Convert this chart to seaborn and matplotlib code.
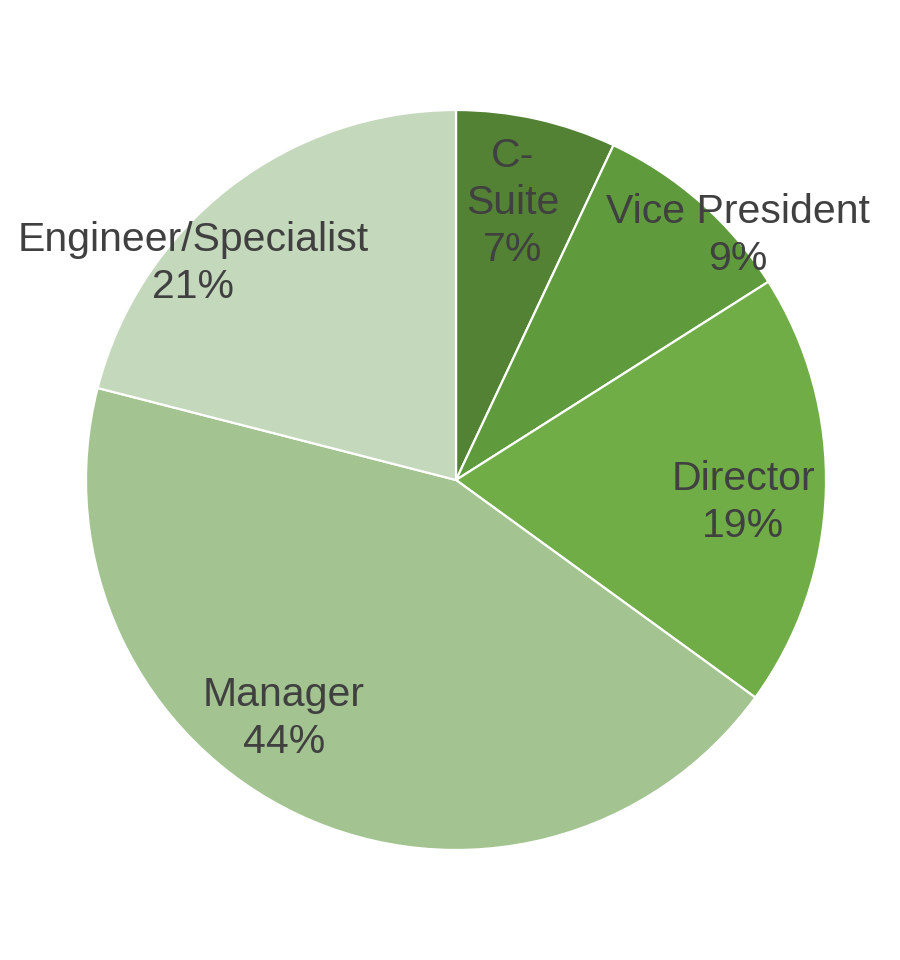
import numpy as np
import matplotlib
matplotlib.use("Agg")
import matplotlib.pyplot as plt
import seaborn as sns

categories = ["C-\nSuite", "Vice President", "Director", "Manager", "Engineer/Specialist"]
values = [7, 9, 19, 44, 21]
colors = ["#548235", "#5F9A3C", "#70AD47", "#A3C490", "#C4D8BC"]
# label placement (angle in degrees, distance as fraction of radius)
label_pos = [(78.4, 0.765), (41.0, 1.009), (-4.4, 0.778), (-125.8, 0.795), (140.6, 0.920)]

sns.set_theme(style="white")
plt.rcParams['font.family'] = ['Liberation Sans', 'DejaVu Sans']

fig = plt.figure(figsize=(9, 9.6), dpi=100)
ax = fig.add_axes([86/900, 110/960, 740/900, 740/960])

total = sum(values)
labels = [f"{c}\n{round(v/total*100)}%" for c, v in zip(categories, values)]
wedges, texts = ax.pie(values, labels=labels, colors=colors, startangle=90,
                       counterclock=False, radius=1,
                       wedgeprops=dict(edgecolor="white", linewidth=1.6),
                       labeldistance=0.78,
                       textprops=dict(ha="center", va="center", color="#404040",
                                      fontsize=29.5, linespacing=1.3))
for t, (ang, d) in zip(texts, label_pos):
    a = np.deg2rad(ang)
    t.set_position((d*np.cos(a), d*np.sin(a)))

ax.set_xlim(-1, 1)
ax.set_ylim(-1, 1)
ax.set_aspect("equal")
ax.axis("off")
fig.savefig("out.png", dpi=100, facecolor="white")
